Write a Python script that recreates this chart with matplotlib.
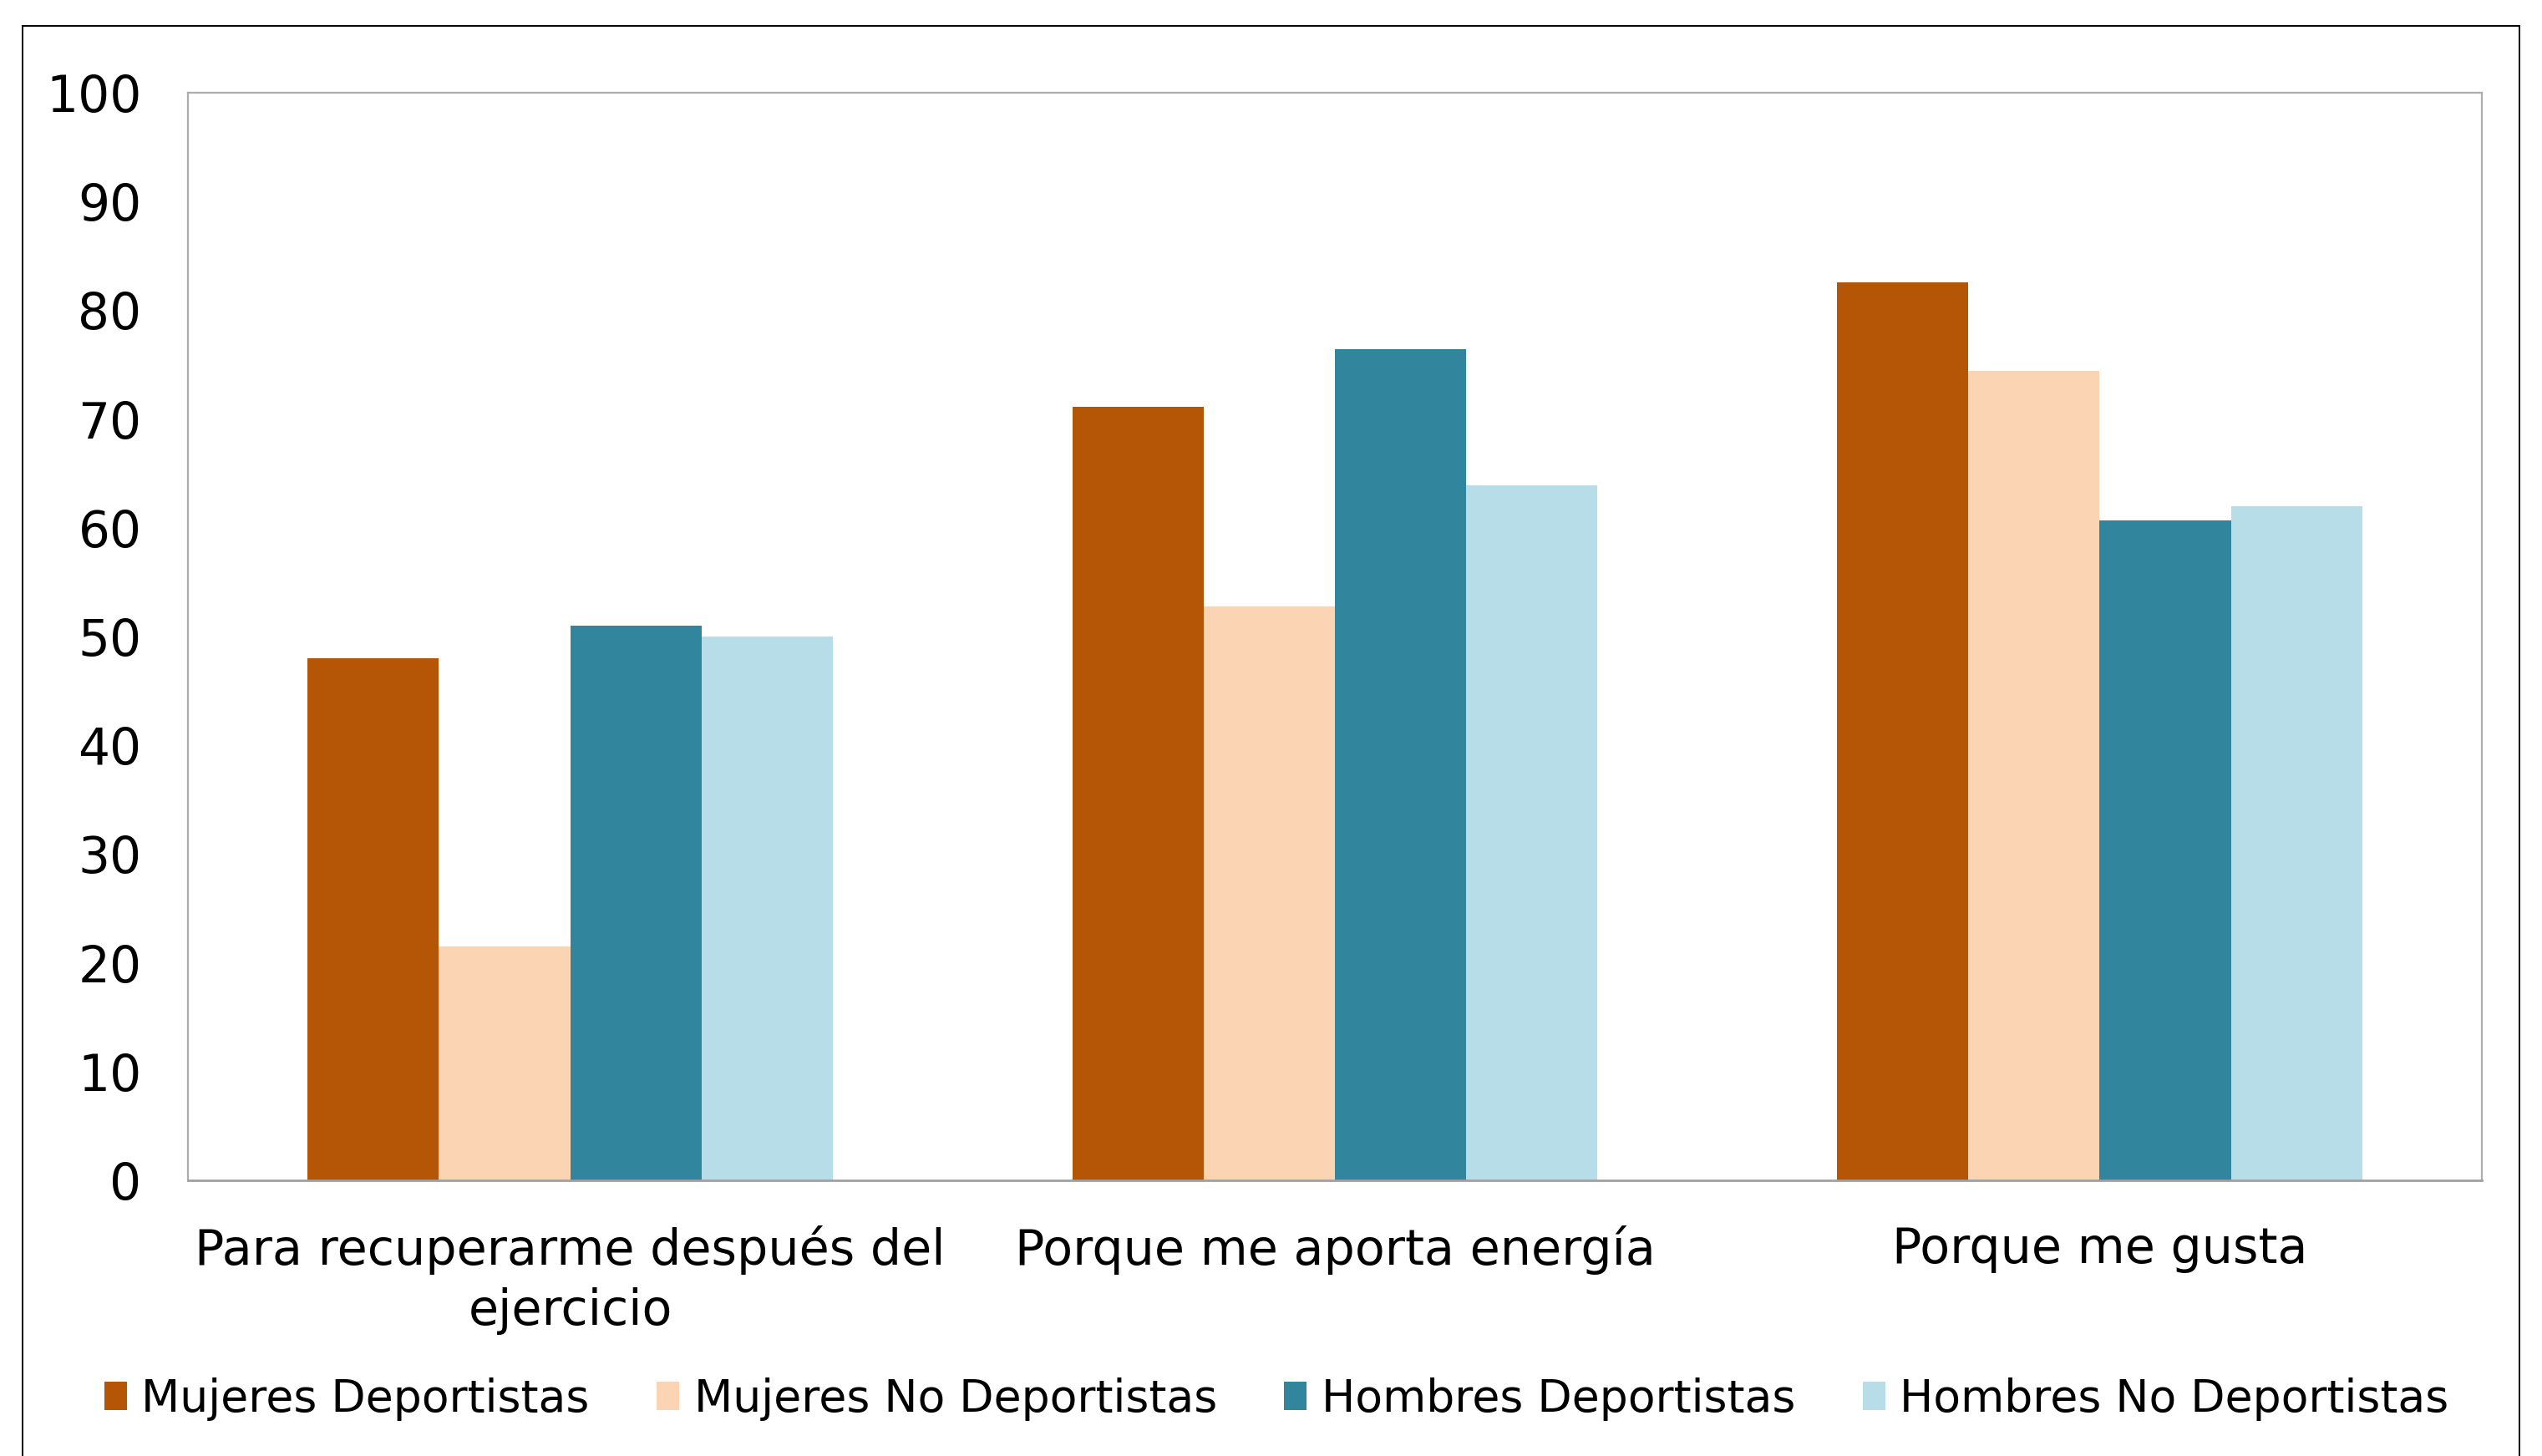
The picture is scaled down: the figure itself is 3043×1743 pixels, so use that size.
import numpy as np
import matplotlib.pyplot as plt
from matplotlib.patches import Rectangle

categories = ['Para recuperarme después del\nejercicio', 'Porque me aporta energía', 'Porque me gusta']
series_names = ['Mujeres Deportistas', 'Mujeres No Deportistas', 'Hombres Deportistas', 'Hombres No Deportistas']
mujeres_dep = [48.0, 71.1, 82.6]
mujeres_nodep = [21.5, 52.8, 74.4]
hombres_dep = [51.0, 76.4, 60.7]
hombres_nodep = [50.0, 63.9, 62.0]
colors = ['#B55606', '#FBD4B4', '#31859C', '#B7DEE8']
yticks = [0, 10, 20, 30, 40, 50, 60, 70, 80, 90, 100]

plt.rcParams['font.family'] = ['DejaVu Sans']

W, H = 3043, 1743
fig = plt.figure(figsize=(W / 200, H / 200), dpi=200)
ax = fig.add_axes([225 / W, 1 - 1413 / H, (2971 - 225) / W, (1413 - 111) / H])

# chart-area border (runs off the bottom of the image)
fig.patches.append(Rectangle((27 / W, -0.05), (3016 - 27) / W, 1.05 - 31 / H,
                             transform=fig.transFigure, fill=False,
                             edgecolor='black', linewidth=0.7))

x = np.arange(len(categories))
width = 0.687 / 4
series = [mujeres_dep, mujeres_nodep, hombres_dep, hombres_nodep]
for i, (vals, name, c) in enumerate(zip(series, series_names, colors)):
    ax.bar(x + (i - 1.5) * width, vals, width, color=c, label=name)

ax.set_xlim(-0.5, 2.5)
ax.set_ylim(0, 100)
ax.set_yticks(yticks)
ax.set_xticks(x)
ax.set_xticklabels(categories, fontsize=21.1, linespacing=1.32)
ax.tick_params(axis='y', length=0, pad=20, labelsize=21.5)
ax.tick_params(axis='x', length=0, pad=19.5)
for s in ax.spines.values():
    s.set_color('#ADADAD')
    s.set_linewidth(0.8)
ax.spines['bottom'].set_color('#A0A0A0')
ax.spines['bottom'].set_linewidth(1.0)

fig.legend(loc='center left', bbox_to_anchor=(125 / W, 1 - 1675 / H), ncol=4,
           frameon=False, fontsize=19.3, handlelength=0.5, handleheight=0.58,
           handletextpad=0.33, columnspacing=1.5, borderaxespad=0, borderpad=0)

fig.savefig('out.png', dpi=200)
